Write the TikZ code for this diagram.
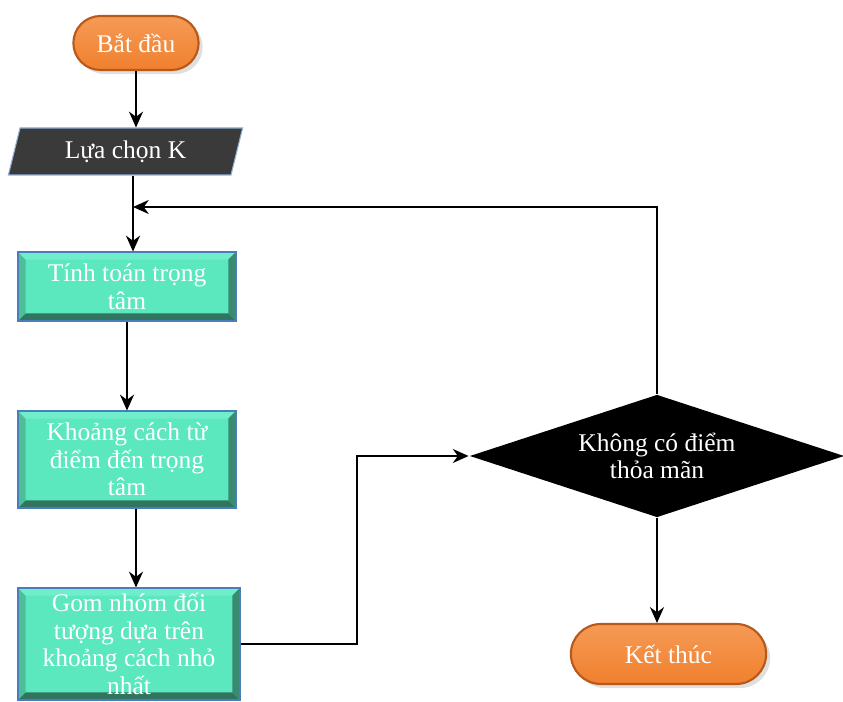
\documentclass[tikz,border=0pt]{standalone}
\usepackage{fontspec}
\setmainfont{Liberation Serif}
\usetikzlibrary{shapes,arrows.meta,positioning,calc,shadows}

\definecolor{pillorange}{HTML}{F0802E}
\definecolor{pilllight}{HTML}{F59A55}
\definecolor{pilldark}{HTML}{B8581A}
\definecolor{boxfill}{HTML}{5CE8BF}
\definecolor{boxedge}{HTML}{4A7EBB}
\definecolor{bevellight}{HTML}{70EDCB}
\definecolor{bevelleft}{HTML}{4DBD9A}
\definecolor{beveldark}{HTML}{3A8A71}
\definecolor{inputgray}{HTML}{3A3A3A}
\definecolor{inputedge}{HTML}{8FB0D8}

\begin{document}
\begin{tikzpicture}[x=0.02cm,y=-0.02cm,
    font=\fontsize{14.5}{15.8}\selectfont,
    >={Stealth[length=9pt,width=8pt]},
    every path/.style={line width=1.1pt},
    terminal/.style={rounded rectangle, draw=pilldark, line width=1.2pt,
        top color=pilllight, bottom color=pillorange, text=white,
        drop shadow={opacity=0.25}},
    inputbox/.style={trapezium, trapezium left angle=73, trapezium right angle=107,
        trapezium stretches=true, fill=inputgray, draw=inputedge, line width=0.6pt,
        text=white, minimum width=4.7cm, minimum height=0.94cm, inner sep=0pt},
    calcbox/.style={rectangle, fill=boxfill, draw=boxedge, line width=0.6pt,
        text=white, align=center, inner sep=0pt,
        path picture={
            \fill[bevelleft] (path picture bounding box.south west) -- (path picture bounding box.north west)
                -- ([shift={(0.15cm,-0.15cm)}]path picture bounding box.north west)
                -- ([shift={(0.15cm,0.15cm)}]path picture bounding box.south west) -- cycle;
            \fill[bevellight] (path picture bounding box.north west) -- (path picture bounding box.north east)
                -- ([shift={(-0.15cm,-0.15cm)}]path picture bounding box.north east)
                -- ([shift={(0.15cm,-0.15cm)}]path picture bounding box.north west) -- cycle;
            \fill[beveldark] (path picture bounding box.north east) -- (path picture bounding box.south east)
                -- ([shift={(-0.15cm,0.15cm)}]path picture bounding box.south east)
                -- ([shift={(-0.15cm,-0.15cm)}]path picture bounding box.north east) -- cycle;
            \fill[beveldark!85!black] (path picture bounding box.south west) -- (path picture bounding box.south east)
                -- ([shift={(-0.15cm,0.15cm)}]path picture bounding box.south east)
                -- ([shift={(0.15cm,0.15cm)}]path picture bounding box.south west) -- cycle;
        }},
    decision/.style={diamond, aspect=3, fill=black, text=white, align=center,
        minimum width=7.5cm, minimum height=2.46cm, inner sep=0pt}]

    \useasboundingbox (0,0) rectangle (843,702);

    % Start
    \node[terminal, minimum width=2.74cm, minimum height=1.08cm] (start) at (136,43) {Bắt đầu};

    % Input K
    \node[inputbox] (pick) at (125.5,151.5) {Lựa chọn K};

    % Steps
    \node[calcbox, minimum width=4.36cm, minimum height=1.38cm] (centroid) at (127,286.5)
        {Tính toán trọng\\tâm};
    \node[calcbox, minimum width=4.36cm, minimum height=1.94cm] (distance) at (127,459.5)
        {Khoảng cách từ\\điểm đến trọng\\tâm};
    \node[calcbox, minimum width=4.44cm, minimum height=2.24cm] (group) at (129,644)
        {Gom nhóm đối\\tượng dựa trên\\khoảng cách nhỏ\\nhất};

    % Check
    \node[decision] (check) at (657,456) {Không có điểm\\thỏa mãn};

    % End
    \node[terminal, minimum width=4.14cm, minimum height=1.2cm] (stop) at (668.5,654) {Kết thúc};

    % Connectors
    \coordinate (join) at (133,207);
    \coordinate (bend) at (357,642);
    \draw[->] (start.south) -- (start.south |- pick.north);
    \draw[->] (pick.south -| join) -- (join |- centroid.north);
    \draw[->] (centroid.south) -- (distance.north);
    \draw[->] (distance.south -| start) -- (group.north -| start);
    \draw[->] (group.east) -- (group.east -| bend) |- (check.west);
    \draw[->] (check.north) |- (join);
    \draw[->] (check.south) -- (check.south |- stop.north);
\end{tikzpicture}
\end{document}
